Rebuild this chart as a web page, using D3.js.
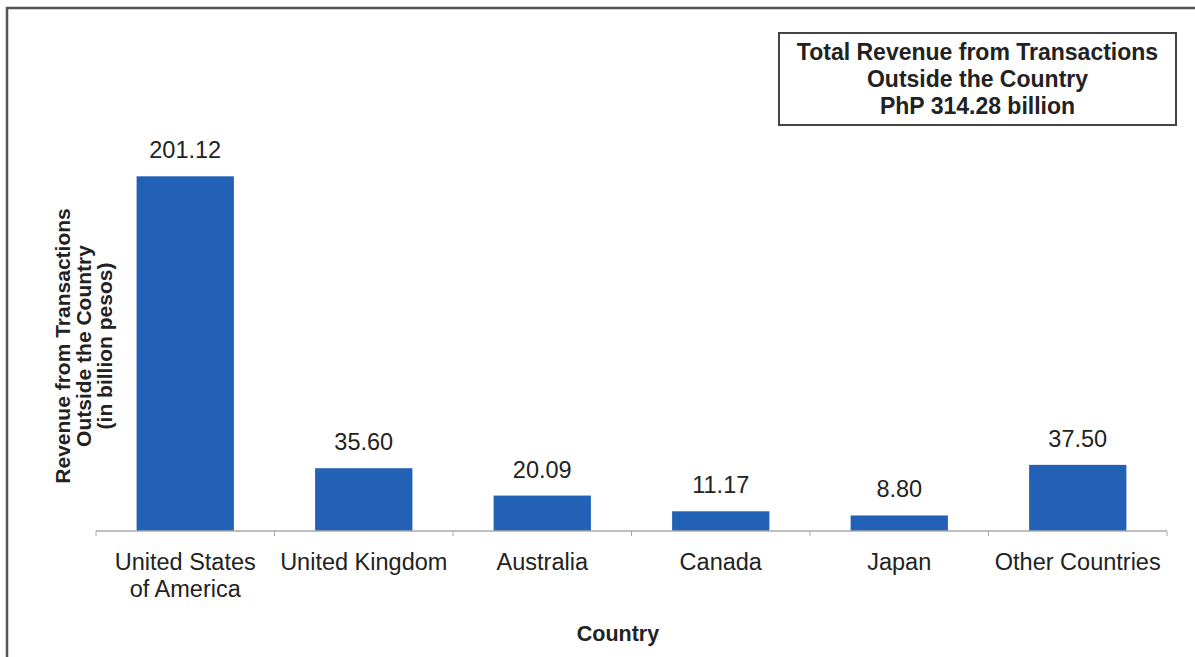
<!DOCTYPE html>
<html>
<head>
<meta charset="utf-8">
<script src="https://cdn.jsdelivr.net/npm/d3@7"></script>
<style>
  body { margin: 0; background: #fff; }
  svg { display: block; font-family: "Liberation Sans", Arial, sans-serif; }
</style>
</head>
<body>
<div id="chart"></div>
<script>
// data
const countries = ['United States of America', 'United Kingdom', 'Australia', 'Canada', 'Japan', 'Other Countries'];
const categoryLines = [['United States', 'of America'], ['United Kingdom'], ['Australia'], ['Canada'], ['Japan'], ['Other Countries']];
const revenue = [201.12, 35.60, 20.09, 11.17, 8.80, 37.50];
const boxLines = ['Total Revenue from Transactions', 'Outside the Country', 'PhP 314.28 billion'];
const yTitleLines = ['Revenue from Transactions', 'Outside the Country', '(in billion pesos)'];
const xTitle = 'Country';

const width = 1195, height = 657;
const margin = { top: 143, right: 28, bottom: 126, left: 96 };
const graphWidth = width - margin.left - margin.right;
const graphHeight = height - margin.top - margin.bottom;

const svg = d3.select('#chart')
    .append('svg')
    .attr('width', width)
    .attr('height', height);

// outer frame (runs off right and bottom like the scan)
svg.append('path')
    .attr('d', `M7,${height} L7,8 L${width},8`)
    .attr('fill', 'none')
    .attr('stroke', '#555')
    .attr('stroke-width', 2.5);

const graph = svg.append('g')
    .attr('transform', `translate(${margin.left}, ${margin.top})`);

//scales
const x = d3.scaleBand()
    .domain(countries)
    .range([0, graphWidth])
    .paddingInner(0.455)
    .paddingOuter(0.2275);

const y = d3.scaleLinear()
    .domain([0, 220])
    .range([graphHeight, 0]);

// bars
graph.selectAll('rect.bar')
    .data(revenue)
    .join('rect')
    .attr('class', 'bar')
    .attr('x', (d, i) => x(countries[i]))
    .attr('y', d => y(d))
    .attr('width', x.bandwidth())
    .attr('height', d => graphHeight - y(d))
    .attr('fill', '#2261b6');

// value labels
graph.selectAll('text.value')
    .data(revenue)
    .join('text')
    .attr('class', 'value')
    .attr('x', (d, i) => x(countries[i]) + x.bandwidth() / 2)
    .attr('y', d => y(d) - 18)
    .attr('text-anchor', 'middle')
    .attr('font-size', 23.5)
    .attr('fill', '#222')
    .text(d => d.toFixed(2));

// x axis: baseline with boundary ticks
const xAxisGroup = graph.append('g')
    .attr('transform', `translate(0, ${graphHeight})`);

const step = x.step();
const boundaries = d3.range(countries.length + 1).map(i => i * step);
xAxisGroup.append('line')
    .attr('x1', 0).attr('x2', graphWidth)
    .attr('y1', 0).attr('y2', 0)
    .attr('stroke', '#aaa')
    .attr('stroke-width', 1.5);
xAxisGroup.selectAll('line.tick')
    .data(boundaries)
    .join('line')
    .attr('class', 'tick')
    .attr('x1', d => d).attr('x2', d => d)
    .attr('y1', 0).attr('y2', 5)
    .attr('stroke', '#aaa');

// category labels
const catText = xAxisGroup.selectAll('text.cat')
    .data(categoryLines)
    .join('text')
    .attr('class', 'cat')
    .attr('text-anchor', 'middle')
    .attr('font-size', 23.5)
    .attr('fill', '#222')
    .attr('transform', (d, i) => `translate(${x(countries[i]) + x.bandwidth() / 2}, 39)`);
catText.selectAll('tspan')
    .data(d => d)
    .join('tspan')
    .attr('x', 0)
    .attr('dy', (d, i) => i === 0 ? 0 : 27)
    .text(d => d);

// x title
svg.append('text')
    .attr('x', 618)
    .attr('y', 641)
    .attr('text-anchor', 'middle')
    .attr('font-size', 21.5)
    .attr('font-weight', 'bold')
    .attr('fill', '#222')
    .text(xTitle);

// y title
const yTitle = svg.append('text')
    .attr('transform', 'translate(70, 346) rotate(-90)')
    .attr('text-anchor', 'middle')
    .attr('font-size', 21)
    .attr('font-weight', 'bold')
    .attr('fill', '#222');
yTitle.selectAll('tspan')
    .data(yTitleLines)
    .join('tspan')
    .attr('x', 0)
    .attr('dy', (d, i) => i === 0 ? 0 : 21)
    .text(d => d);

// total box
const box = svg.append('g').attr('transform', 'translate(779, 33)');
box.append('rect')
    .attr('width', 397)
    .attr('height', 92)
    .attr('fill', '#fff')
    .attr('stroke', '#444')
    .attr('stroke-width', 2);
box.selectAll('text')
    .data(boxLines)
    .join('text')
    .attr('x', 397 / 2)
    .attr('y', (d, i) => 27 + i * 27)
    .attr('text-anchor', 'middle')
    .attr('font-size', 23)
    .attr('font-weight', 'bold')
    .attr('fill', '#222')
    .text(d => d);
</script>
</body>
</html>
